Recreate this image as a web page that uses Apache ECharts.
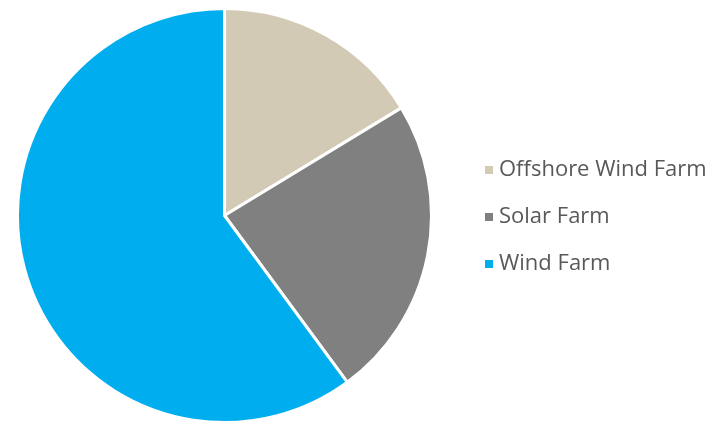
<!DOCTYPE html>
<html>
<head>
<meta charset="utf-8">
<script src="https://cdn.jsdelivr.net/npm/echarts@6/dist/echarts.min.js"></script>
<style>
  html, body { margin: 0; padding: 0; background: #fff; }
  #main { width: 710px; height: 423px; }
</style>
</head>
<body>
<div id="main"></div>
<script>
// 饼图数据
const categories = ['Offshore Wind Farm', 'Solar Farm', 'Wind Farm']
const values = [16.3, 23.6, 60.1]
const colors = ['#D3CAB5', '#808080', '#00ADEF']

const chart = echarts.init(document.getElementById('main'), null, { renderer: 'canvas' })

const option = {
  animation: false,
  legend: {
    orient: 'vertical',
    left: 478,
    top: 154,
    itemWidth: 10,
    itemHeight: 10,
    itemGap: 25,
    icon: 'rect',
    data: categories,
    textStyle: {
      fontFamily: 'Open Sans',
      fontSize: 22,
      color: '#595959',
    },
  },
  series: [
    {
      type: 'pie',
      center: [224.5, 215.5],
      radius: 207,
      startAngle: 90,
      clockwise: true,
      label: { show: false },
      labelLine: { show: false },
      itemStyle: {
        borderColor: '#fff',
        borderWidth: 3,
      },
      data: categories.map((name, i) => ({
        name: name,
        value: values[i],
        itemStyle: { color: colors[i] },
      })),
    },
  ],
}

chart.setOption(option)
</script>
</body>
</html>
